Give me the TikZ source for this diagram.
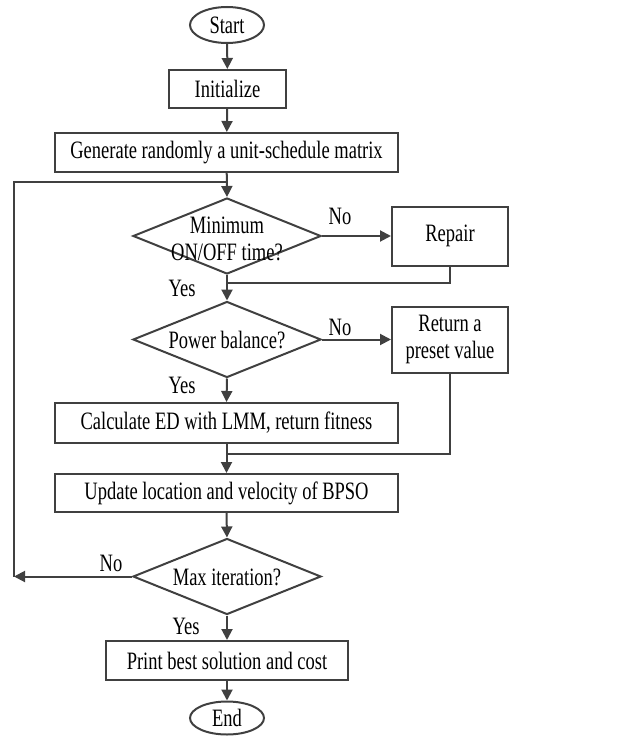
\documentclass[tikz,border=0pt]{standalone}
\usepackage{fontspec}
\setmainfont[FakeStretch=0.74]{Liberation Serif}
\usepackage{tikz}
\usetikzlibrary{shapes.geometric,arrows.meta}
\definecolor{edge}{RGB}{64,64,64}

\tikzset{
  box/.style={draw=edge, line width=2pt, rectangle, inner sep=0pt, align=center},
  term/.style={draw=edge, line width=2pt, ellipse, inner sep=0pt, minimum width=74pt, minimum height=36pt},
  decision/.style={draw=edge, line width=2pt, diamond, inner sep=0pt, aspect=2.47, minimum width=188pt, minimum height=76pt},
  txt/.style={inner sep=0pt, align=center},
  flow/.style={draw=edge, line width=2pt, -{Triangle[length=11pt,width=11pt]}},
  link/.style={draw=edge, line width=2pt}
}

\begin{document}
\begin{tikzpicture}[x=1pt, y=-1pt, font=\fontsize{25}{27}\selectfont, line join=miter]
\useasboundingbox (0,0) rectangle (643,736);

\node[term] (start) at (227,25) {Start};
\node[box, minimum width=117pt, minimum height=38pt] (init) at (227.5,89) {Initialize};
\node[box, minimum width=343pt, minimum height=39pt] (gen) at (226.5,152.5) {Generate randomly a unit-schedule matrix};
\node[decision] (onoff) at (227,236) {};
\node[txt] (onofftxt) at (227,239) {Minimum\\ON/OFF time?};
\node[box, minimum width=116pt, minimum height=59pt] (repair) at (450,236) {Repair};
\node[decision] (power) at (227,339.5) {};
\node[txt] (powertxt) at (227,340) {Power balance?};
\node[box, minimum width=116pt, minimum height=66pt] (preset) at (450,339.5) {Return a\\preset value};
\node[box, minimum width=343pt, minimum height=40pt] (calc) at (226.5,423) {Calculate ED with LMM, return fitness};
\node[box, minimum width=343pt, minimum height=38pt] (update) at (226.5,493) {Update location and velocity of BPSO};
\node[decision] (maxit) at (227,576.5) {};
\node[txt] (maxittxt) at (227,577) {Max iteration?};
\node[box, minimum width=242pt, minimum height=39pt] (print) at (227,660.5) {Print best solution and cost};
\node[term, minimum height=33pt] (end) at (227,718) {End};

\coordinate (loop) at (227,182);
\coordinate (back) at (14,576.5);
\coordinate (join1) at (227,283);
\coordinate (join2) at (227,454);

% main line
\draw[flow] (start) -- (init);
\draw[flow] (init) -- (gen);
\draw[flow] (gen) -- (onoff.north);
\draw[flow] (onoff.south) -- (power.north);
\draw[flow] (power.south) -- (calc.north);
\draw[flow] (calc.south) -- (update.north);
\draw[flow] (update.south) -- (maxit.north);
\draw[flow] (maxit.south) -- (print.north);
\draw[flow] (print) -- (end);

% side branches
\draw[flow] (onoff.east) -- (repair.west);
\draw[link] (repair.south) |- (join1);
\draw[flow] (power.east) -- (preset.west);
\draw[link] (preset.south) |- (join2);

% back to the start of the loop
\draw[flow] (maxit.west) -- (back);
\draw[link] (back) |- (loop);

\node[txt] (no1) at (340,216) {No};
\node[txt] (yes1) at (182,288) {Yes};
\node[txt] (no2) at (340,327) {No};
\node[txt] (yes2) at (182,385) {Yes};
\node[txt] (no3) at (111,563) {No};
\node[txt] (yes3) at (186,626) {Yes};
\end{tikzpicture}
\end{document}
